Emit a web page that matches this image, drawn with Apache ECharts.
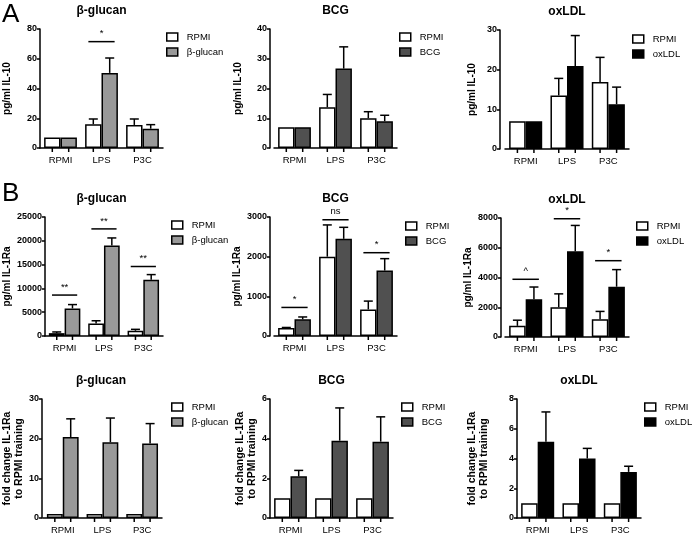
<!DOCTYPE html>
<html><head><meta charset="utf-8">
<script src="https://cdn.jsdelivr.net/npm/echarts@6/dist/echarts.min.js"></script>
<style>html,body{margin:0;padding:0;background:#fff}#c{width:696px;height:537px}</style>
</head><body><div id="c"></div><script>
const categories = ['RPMI', 'LPS', 'P3C'];

// A: IL-10 (pg/ml)
const il10GlucanRpmi = [7, 16, 15.5];
const il10GlucanRpmiSem = [0, 3.5, 4];
const il10Glucan = [7, 50.5, 13];
const il10GlucanSem = [0, 10, 2.7];
const il10GlucanSig = [[1, 71.5]];
const il10GlucanSigText = ['*'];

const il10BcgRpmi = [7, 13.7, 10];
const il10BcgRpmiSem = [0, 4.3, 2.2];
const il10Bcg = [7, 26.7, 9];
const il10BcgSem = [0, 7.3, 2];
const il10BcgSig = [];
const il10BcgSigText = [];

const il10OxRpmi = [7, 13.5, 16.9];
const il10OxRpmiSem = [0, 4.3, 6.2];
const il10Ox = [7, 20.9, 11.3];
const il10OxSem = [0, 7.7, 4.3];
const il10OxSig = [];
const il10OxSigText = [];

// B: IL-1Ra (pg/ml)
const ra1GlucanRpmi = [600, 2600, 1100];
const ra1GlucanRpmiSem = [250, 600, 300];
const ra1Glucan = [5800, 19000, 11800];
const ra1GlucanSem = [800, 1600, 1100];
const ra1GlucanSig = [[0, 8600], [1, 22500], [2, 14600]];
const ra1GlucanSigText = ['**', '**', '**'];

const ra1BcgRpmi = [200, 2000, 670];
const ra1BcgRpmiSem = [15, 800, 210];
const ra1Bcg = [420, 2450, 1650];
const ra1BcgSem = [60, 290, 300];
const ra1BcgSig = [[0, 720], [1, 2930], [2, 2100]];
const ra1BcgSigText = ['*', 'ns', '*'];

const ra1OxRpmi = [750, 2000, 1200];
const ra1OxRpmiSem = [380, 900, 520];
const ra1Ox = [2540, 5760, 3380];
const ra1OxSem = [820, 1740, 1150];
const ra1OxSig = [[0, 3880], [1, 7950], [2, 5130]];
const ra1OxSigText = ['^', '*', '*'];

// C: fold change IL-1Ra to RPMI training
const foldGlucanRpmi = [1, 1, 1];
const foldGlucan = [20.4, 19.1, 18.8];
const foldGlucanSem = [4.6, 6.1, 5.0];

const foldBcgRpmi = [1, 1, 1];
const foldBcg = [2.1, 3.9, 3.85];
const foldBcgSem = [0.3, 1.65, 1.25];

const foldOxRpmi = [1, 1, 1];
const foldOx = [5.13, 4.0, 3.1];
const foldOxSem = [2.0, 0.68, 0.38];

const zeroSem = [0, 0, 0];

const stimColors = { 'β-glucan': '#999999', 'BCG': '#505050', 'oxLDL': '#000000' };

const panels = [
  { title: 'β-glucan', stim: 'β-glucan', ctrl: il10GlucanRpmi, ctrlSem: il10GlucanRpmiSem, val: il10Glucan, sem: il10GlucanSem, sig: il10GlucanSig, sigText: il10GlucanSigText, yName: 'pg/ml IL-10', max: 80, interval: 20 },
  { title: 'BCG', stim: 'BCG', ctrl: il10BcgRpmi, ctrlSem: il10BcgRpmiSem, val: il10Bcg, sem: il10BcgSem, sig: il10BcgSig, sigText: il10BcgSigText, yName: 'pg/ml IL-10', max: 40, interval: 10 },
  { title: 'oxLDL', stim: 'oxLDL', ctrl: il10OxRpmi, ctrlSem: il10OxRpmiSem, val: il10Ox, sem: il10OxSem, sig: il10OxSig, sigText: il10OxSigText, yName: 'pg/ml IL-10', max: 30, interval: 10 },
  { title: 'β-glucan', stim: 'β-glucan', ctrl: ra1GlucanRpmi, ctrlSem: ra1GlucanRpmiSem, val: ra1Glucan, sem: ra1GlucanSem, sig: ra1GlucanSig, sigText: ra1GlucanSigText, yName: 'pg/ml IL-1Ra', max: 25000, interval: 5000 },
  { title: 'BCG', stim: 'BCG', ctrl: ra1BcgRpmi, ctrlSem: ra1BcgRpmiSem, val: ra1Bcg, sem: ra1BcgSem, sig: ra1BcgSig, sigText: ra1BcgSigText, yName: 'pg/ml IL-1Ra', max: 3000, interval: 1000 },
  { title: 'oxLDL', stim: 'oxLDL', ctrl: ra1OxRpmi, ctrlSem: ra1OxRpmiSem, val: ra1Ox, sem: ra1OxSem, sig: ra1OxSig, sigText: ra1OxSigText, yName: 'pg/ml IL-1Ra', max: 8000, interval: 2000 },
  { title: 'β-glucan', stim: 'β-glucan', ctrl: foldGlucanRpmi, ctrlSem: zeroSem, val: foldGlucan, sem: foldGlucanSem, sig: [], sigText: [], yName: 'fold change IL-1Ra\nto RPMI training', max: 30, interval: 10 },
  { title: 'BCG', stim: 'BCG', ctrl: foldBcgRpmi, ctrlSem: zeroSem, val: foldBcg, sem: foldBcgSem, sig: [], sigText: [], yName: 'fold change IL-1Ra\nto RPMI training', max: 6, interval: 2 },
  { title: 'oxLDL', stim: 'oxLDL', ctrl: foldOxRpmi, ctrlSem: zeroSem, val: foldOx, sem: foldOxSem, sig: [], sigText: [], yName: 'fold change IL-1Ra\nto RPMI training', max: 8, interval: 2 }
];

// layout (pixels)
const layout = [
  { left: 40, width: 123, top: 29, offset: 0, nameGap: 27, legX: 166, legY: 32 },
  { left: 274, width: 123, top: 29, offset: 4, nameGap: 26, legX: 399, legY: 32 },
  { left: 505, width: 124, top: 30, offset: 5, nameGap: 22, legX: 632, legY: 34 },
  { left: 40, width: 123, top: 217, offset: 0, nameGap: 27, legX: 171, legY: 220 },
  { left: 274, width: 123, top: 217, offset: 4, nameGap: 27, legX: 405, legY: 221 },
  { left: 505, width: 124, top: 218, offset: 4, nameGap: 23, legX: 636, legY: 221 },
  { left: 40, width: 122, top: 399, offset: 1, nameGap: 9, legX: 171, legY: 402 },
  { left: 270, width: 123, top: 399, offset: 0, nameGap: 12, legX: 401, legY: 402 },
  { left: 517, width: 124, top: 399, offset: 0, nameGap: 27, legX: 644, legY: 402 }
];

const FONT = 'Liberation Sans, Arial, sans-serif';
const grids = [], xAxes = [], yAxes = [], series = [], legends = [], titles = [];

titles.push({ text: 'A', left: 2, top: 2, padding: 0, textStyle: { fontFamily: FONT, fontSize: 26, fontWeight: 'normal', color: '#000' } });
titles.push({ text: 'B', left: 2, top: 181, padding: 0, textStyle: { fontFamily: FONT, fontSize: 26, fontWeight: 'normal', color: '#000' } });

panels.forEach((p, i) => {
  const L = layout[i];
  grids.push({ left: L.left, width: L.width, top: L.top, height: 119, containLabel: false });
  xAxes.push({
    type: 'category', gridIndex: i, data: categories,
    axisLine: { lineStyle: { color: '#000', width: 1.5 } },
    axisTick: { show: false },
    axisLabel: { color: '#000', fontFamily: FONT, fontSize: 9.5, margin: 7 }
  });
  yAxes.push({
    type: 'value', gridIndex: i, min: 0, max: p.max, interval: p.interval, offset: L.offset,
    name: p.yName, nameLocation: 'middle', nameGap: L.nameGap,
    nameTextStyle: { color: '#000', fontFamily: FONT, fontSize: i >= 6 ? 10.5 : 10, fontWeight: 'bold', lineHeight: 12 },
    axisLine: { show: true, lineStyle: { color: '#000', width: 1.5 } },
    axisTick: { show: true, length: 3, lineStyle: { color: '#000', width: 1.5 } },
    axisLabel: { color: '#000', fontFamily: FONT, fontSize: 9, fontWeight: 'bold', margin: 3, formatter: v => String(v) },
    splitLine: { show: false }
  });
  const cx = L.left + L.width / 2;
  titles.push({ text: p.title, left: cx, top: L.top - 24, textAlign: 'center', padding: 0,
    textStyle: { fontFamily: FONT, fontSize: 12, fontWeight: 'bold', color: '#000' } });
  series.push({
    type: 'bar', name: 'RPMI', xAxisIndex: i, yAxisIndex: i, data: p.ctrl,
    barGap: '0%', barCategoryGap: '20%',
    itemStyle: { color: '#ffffff', borderColor: '#000', borderWidth: 1.5 }
  });
  series.push({
    type: 'bar', name: p.stim, xAxisIndex: i, yAxisIndex: i, data: p.val,
    barGap: '0%', barCategoryGap: '20%',
    itemStyle: { color: stimColors[p.stim], borderColor: '#000', borderWidth: 1.5 }
  });
  const errData = [];
  p.ctrl.forEach((v, k) => errData.push([k, v, p.ctrlSem[k], 0]));
  p.val.forEach((v, k) => errData.push([k, v, p.sem[k], 1]));
  series.push({
    type: 'custom', xAxisIndex: i, yAxisIndex: i, data: errData, clip: false, z: 5, silent: true,
    renderItem: (params, api) => {
      const idx = api.value(0), v = api.value(1), sem = api.value(2), s = api.value(3);
      const base = api.coord([idx, 0]);
      const pt = api.coord([idx, v]);
      const band = api.size([1, 0])[0];
      const x = pt[0] + (s === 0 ? -1 : 1) * band * 0.2;
      const st = { stroke: '#000', lineWidth: 1.5 };
      const ch = [{ type: 'line', shape: { x1: x, y1: base[1], x2: x, y2: base[1] + 4 }, style: st }];
      if (sem > 0) {
        const t = api.coord([idx, v + sem]);
        ch.push({ type: 'line', shape: { x1: x, y1: pt[1], x2: x, y2: t[1] }, style: st });
        ch.push({ type: 'line', shape: { x1: x - 4.5, y1: t[1], x2: x + 4.5, y2: t[1] }, style: st });
      }
      return { type: 'group', children: ch };
    }
  });
  if (p.sig.length) {
    const texts = p.sigText;
    series.push({
      type: 'custom', xAxisIndex: i, yAxisIndex: i, data: p.sig, clip: false, z: 5, silent: true,
      renderItem: (params, api) => {
        const pt = api.coord([api.value(0), api.value(1)]);
        const band = api.size([1, 0])[0];
        const hw = band * 0.32;
        return { type: 'group', children: [
          { type: 'line', shape: { x1: pt[0] - hw, y1: pt[1], x2: pt[0] + hw, y2: pt[1] }, style: { stroke: '#000', lineWidth: 1.5 } },
          { type: 'text', style: { text: texts[params.dataIndex], x: pt[0], y: pt[1] - 3, align: 'center', verticalAlign: 'bottom',
            fontFamily: FONT, fontSize: 9.5, fill: '#000' } }
        ] };
      }
    });
  }
  legends.push({
    data: ['RPMI', p.stim], orient: 'vertical', left: L.legX, top: L.legY, padding: 0,
    icon: 'rect', itemWidth: 11, itemHeight: 8, itemGap: 5, selectedMode: false,
    itemStyle: { borderColor: '#000', borderWidth: 1.5 },
    textStyle: { fontFamily: FONT, fontSize: 9.5, color: '#000', padding: [0, 0, 0, 4] }
  });
});

const chart = echarts.init(document.getElementById('c'), null, { renderer: 'canvas' });
chart.setOption({
  animation: false, backgroundColor: '#fff',
  title: titles, grid: grids, xAxis: xAxes, yAxis: yAxes, legend: legends, series: series
});
</script></body></html>
